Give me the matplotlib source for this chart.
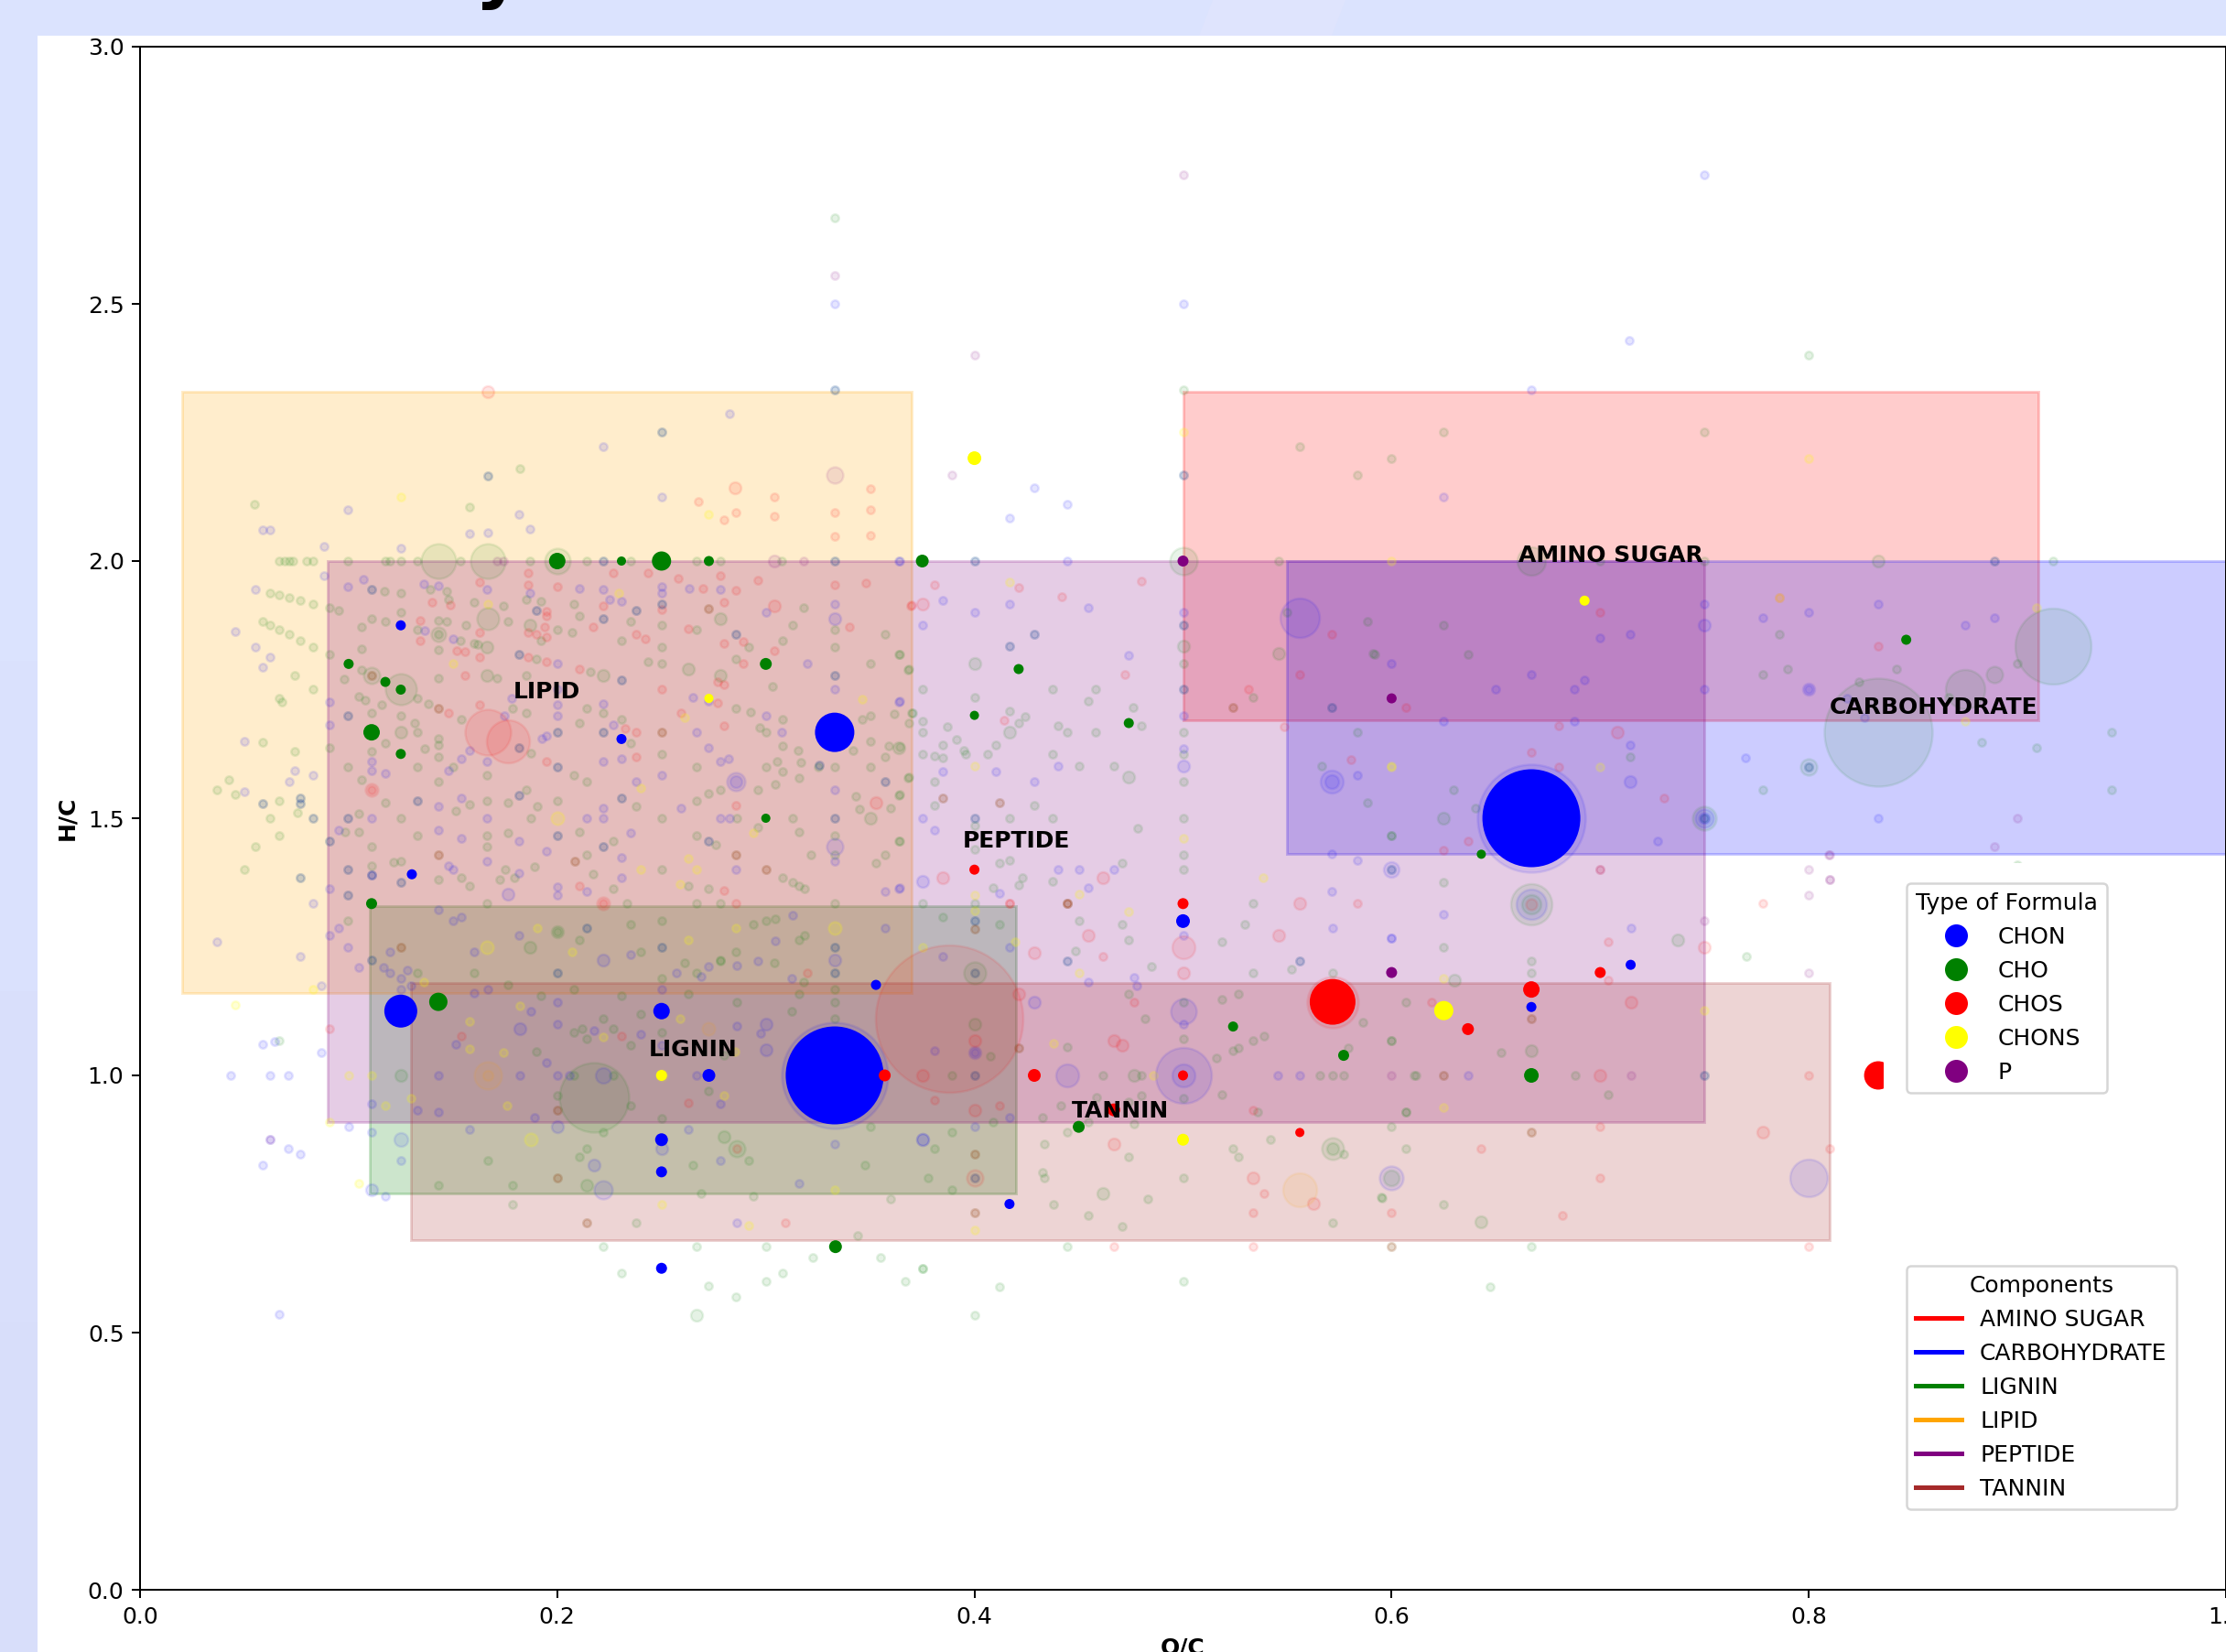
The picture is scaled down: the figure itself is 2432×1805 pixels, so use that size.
import numpy as np
import matplotlib
matplotlib.use("Agg")
import matplotlib.pyplot as plt
from matplotlib.patches import Rectangle, Polygon
from matplotlib.lines import Line2D

DPI = 180
W, H = 2432, 1805

# --- component regions: name, colour, O/C min, O/C max, H/C min, H/C max, label position
regions = [
    ("AMINO SUGAR", "red", 0.50, 0.91, 1.69, 2.33, 0.705, 2.01),
    ("CARBOHYDRATE", "blue", 0.55, 1.00, 1.43, 2.00, 0.86, 1.715),
    ("LIGNIN", "green", 0.11, 0.42, 0.77, 1.33, 0.265, 1.05),
    ("LIPID", "orange", 0.02, 0.37, 1.16, 2.33, 0.195, 1.745),
    ("PEPTIDE", "purple", 0.09, 0.75, 0.91, 2.00, 0.42, 1.455),
    ("TANNIN", "brown", 0.13, 0.81, 0.68, 1.18, 0.47, 0.93),
]
formula_types = [("CHON", "blue"), ("CHO", "green"), ("CHOS", "red"), ("CHONS", "yellow"), ("P", "purple")]

# --- faint formulas (O/C, H/C)
cho_small = [
(.0665,2),(.0694,2),(.0714,2),(.0733,2),(.0798,2),(.0831,2),(.0998,2),(.1174,2),(.12,2),(.125,2),(.133,2),(.1536,2),(.187,2),(.2143,2),(.2353,2),(.2667,2),(.278,2),(.3076,2),
(.158,2.105),(.117,1.941),(.125,1.938),(.139,1.944),(.147,1.941),(.055,2.11),(.182,2.18),(.8,2.4),(.2857,.57),(.2727,.59),
(.0665,1.934),(.0714,1.928),(.0768,1.923),(.083,1.916),(.091,1.909),(.095,1.904),(.111,1.888),(.125,1.9),(.1174,1.882),(.143,1.885),(.147,1.882),(.148,1.925),(.16,1.92),(.174,1.913),(.185,1.925),(.192,1.922),(.208,1.916),(.318,1.909),(.2105,1.894),(.1763,1.882),(.2,1.867),(.2353,1.882),
(.0665,1.867),(.0714,1.857),(.0768,1.846),(.083,1.833),(.091,1.818),(.106,1.872),(.133,1.867),(.143,1.857),(.1536,1.846),(.156,1.875),(.16,1.839),(.162,1.838),(.143,1.828),(.192,1.845),(.207,1.862),(.231,1.846),(.25,1.875),(.25,1.833),(.2667,1.867),(.2917,1.833),(.308,1.846),(.3127,1.875),(.333,1.867),(.333,1.833),(.357,1.857),
(.106,1.83),(.106,1.789),(.074,1.778),(.083,1.75),(.098,1.771),(.143,1.772),(.171,1.772),(.19,1.81),(.185,1.778),(.216,1.784),(.2437,1.805),(.25,1.8),(.2857,1.81),(.303,1.757),(.35,1.8),(.3636,1.818),(.368,1.789),
(.0665,1.733),(.068,1.726),(.105,1.737),(.108,1.729),(.116,1.72),(.133,1.733),(.138,1.723),(.111,1.704),(.125,1.7),(.1787,1.713),(.185,1.704),(.2143,1.713),(.222,1.704),(.2857,1.713),(.2927,1.707),(.308,1.692),(.35,1.7),(.3617,1.703),(.37,1.704),(.346,1.692),
(.1315,1.685),(.231,1.692),(.2105,1.685),(.133,1.667),(.143,1.655),(.154,1.693),(.297,1.676),(.3,1.667),(.308,1.64),(.3156,1.632),(.342,1.632),(.35,1.65),(.359,1.64),(.1174,1.646),(.091,1.637),(.074,1.63),(.111,1.63),(.143,1.643),(.2353,1.646),(.1875,1.626),
(.1364,1.636),(.143,1.62),(.25,1.625),(.2667,1.6),(.3,1.6),(.3055,1.61),(.308,1.59),(.317,1.609),(.325,1.6),(.333,1.6),(.35,1.6),(.357,1.62),(.0998,1.6),(.133,1.6),(.15,1.6),(.1665,1.584),
(.106,1.575),(.143,1.572),(.185,1.556),(.208,1.584),(.2143,1.572),(.2727,1.548),(.278,1.556),(.267,1.534),(.296,1.556),(.3045,1.565),(.3158,1.578),(.343,1.543),(.345,1.518),(.3636,1.545),(.368,1.578),(.0665,1.534),(.1174,1.53),(.158,1.526),(.1665,1.534),(.1763,1.53),(.1905,1.524),(.2,1.534),(.238,1.524),
(.0753,1.51),(.105,1.509),(.125,1.5),(.1516,1.515),(.1873,1.5),(.25,1.5),(.286,1.5),(.3127,1.5),(.36,1.52),(.0984,1.474),(.105,1.474),(.133,1.467),(.1665,1.467),(.1763,1.471),(.2105,1.474),(.2667,1.467),(.296,1.482),(.3158,1.474),(.333,1.467),(.0665,1.467),(.0623,1.5),
(.111,1.445),(.1665,1.445),(.2143,1.429),(.227,1.455),(.276,1.448),(.3215,1.429),(.333,1.429),(.353,1.412),(.357,1.429),(.3636,1.455),(.1217,1.415),(.125,1.417),(.111,1.408),
(.143,1.381),(.154,1.385),(.158,1.369),(.1724,1.38),(.175,1.4),(.1795,1.385),(.189,1.406),(.217,1.391),(.25,1.4),(.308,1.385),(.3127,1.375),(.3158,1.369),(.3184,1.363),(.227,1.363),(.263,1.369),(.2727,1.363),
(.1665,1.334),(.2333,1.334),(.2667,1.334),(.278,1.334),(.333,1.334),(.0998,1.3),(.2,1.28),(.2105,1.264),(.2353,1.294),(.24,1.241),(.25,1.3),(.278,1.225),(.2857,1.24),(.294,1.294),(.3,1.3),(.3045,1.305),(.3158,1.264),(.3184,1.273),
(.133,1.2),(.16,1.2),(.1765,1.176),(.192,1.154),(.208,1.167),(.231,1.154),(.25,1.188),(.261,1.218),(.267,1.2),(.278,1.222),(.304,1.218),(.318,1.182),(.286,1.143),(.263,1.158),(.316,1.158),(.3125,1.125),(.333,1.167),(.333,1.143),(.333,1.111),
(.222,1.111),(.212,1.09),(.208,1.084),(.214,1.072),(.227,1.09),(.24,1.12),(.25,1.084),(.19,1.047),(.235,1.059),(.28,1.04),(.208,1),(.227,1),(.2,.96),(.235,.942),(.2727,.97),(.222,.889),(.25,.917),(.292,.834),(.214,.857),(.2105,.842),(.1666,.834),(.265,.825),(.143,.786),(.1786,.786),(.3477,.826),(.35,.9),(.36,.76),(.294,.765),(.269,.77),(.1786,.75),(.238,.714),
(.2222,.667),(.2667,.667),(.30,.667),(.344,.688),(.3226,.646),(.355,.646),(.231,.616),(.308,.616),(.30,.60),(.367,.60),(.375,.625),
(.0587,1.647),(.0426,1.575),(.037,1.556),(.0455,1.547),(.0555,1.445),(.05,1.4),(.0587,1.882),(.0623,1.875),(.0623,1.937),(.0665,1.068),
(.364,1.818),(.3684,1.79),(.375,1.751),(.4,1.734),(.4376,1.751),(.4583,1.751),(.4546,1.728),(.5334,1.734),(.3704,1.705),(.375,1.688),(.3684,1.685),(.4168,1.709),(.4212,1.685),(.4243,1.698),(.4762,1.715),(.48,1.68),(.375,1.668),(.387,1.678),(.44,1.68),(.4444,1.668),(.4583,1.668),(.5,1.668),(.5834,1.668),(.364,1.638),(.3847,1.642),(.3913,1.653),(.395,1.632),(.396,1.625),(.4063,1.625),(.4104,1.642),(.375,1.625),(.381,1.621),(.3847,1.617),(.4376,1.625),(.5,1.625),(.45,1.601),(.4668,1.601),(.381,1.572),(.3684,1.58),(.364,1.546),(.5,1.572),(.5666,1.601),(.5883,1.53),(.381,1.525),(.412,1.53),(.4287,1.525),(.4168,1.5),(.4376,1.5),(.5,1.5),(.4,1.486),(.4784,1.48),(.364,1.456),(.6,1.467),(.4,1.44),(.412,1.413),(.4168,1.418),(.5,1.428),(.4707,1.413),(.5,1.4),(.4232,1.385),(.4212,1.37),(.4091,1.364),(.4376,1.377),(.375,1.334),(.5334,1.334),
(.556,2.222),(.5834,2.167),(.6,2.2),(.5,2.333),(.5458,2),(.55,1.9),(.5883,1.883),(.591,1.82),(.5,1.8),(.4,1.334),
(.385,1.308),(.412,1.294),(.45,1.3),(.4707,1.294),(.4739,1.264),(.5297,1.294),(.5187,1.259),(.552,1.207),(.5336,1.2),(.5717,1.2),(.485,1.212),(.4483,1.242),
(.4739,1.158),(.5187,1.148),(.5265,1.158),(.5,1.143),(.4817,1.111),(.607,1.143),(.5864,1.103),(.4076,1.037),(.4446,1.056),(.5,1.072),(.5336,1.067),(.5387,1.077),(.524,1.048),(.5265,1.053),(.5162,1.033),(.579,1.053),(.6,1.067),(.389,1),(.4617,1),(.48,1),(.5656,1),(.5717,1),(.577,1),(.6115,1),
(.409,.91),(.4327,.919),(.4413,.942),(.4584,.958),(.48,.96),(.474,.948),(.5,.955),(.5187,.963),(.5358,.928),(.607,.928),(.389,.889),(.381,.857),(.3778,.8),(.389,.778),(.4446,.889),(.4546,.91),(.4764,.905),(.4335,.867),(.4739,.842),(.524,.857),(.5265,.842),(.5419,.875),(.577,.847),(.6,.9),(.607,.857),(.4325,.811),(.4335,.8),(.5,.8),(.483,.76),(.4377,.75),(.4546,.728),(.5955,.762),(.5717,.714),(.4707,.706),(.4446,.667),(.375,.625),(.412,.589),(.5,.6),(.4,.533),
(.625,1.375),(.625,1.25),(.667,1.222),(.667,1.2),(.77,1.231),(.6525,1.044),(.688,1),(.611,1),(.704,.963),(.607,.929),(.625,.75),(.595,.763),(.667,.667),(.647,.589),(.6,1.067),
(.625,2.25),(.75,2.25),(.7,2),(.75,2),(.917,2),(.625,1.875),(.786,1.857),(.6367,1.818),(.592,1.818),(.9,1.8),(.79,1.79),(.842,1.79),(.778,1.779),(.824,1.765),(.867,1.734),(.8827,1.647),(.909,1.637),(.945,1.667),(.7144,1.62),(.6296,1.556),(.778,1.556),(.945,1.556),(.64,1.52),(.6,1.467),(.9,1.41),(.333,2.667),
]
cho_large = [(.1665,1.833),(.187,1.875),(.222,1.778),(.1665,1.778),(.263,1.79),(.278,1.778),(.278,1.888),(.3636,1.637),(.125,1.667),(.35,1.5),(.125,1),(.28,.88),(.214,.786),(.4,1.8),(.5,1.834),(.5458,1.82),(.4168,1.668),(.474,1.58),(.4,1.1),(.4764,1),(.4617,.77),(.5717,.857),(.737,1.264),(.63,1.185),(.667,1.048),(.643,.715),(.8333,2),(.625,1.5),(.187,1.25),(.2,1.28),(.2667,.533)]

chon_small = [
(.3636,2),(.0998,2.10),(.1816,2.09),(.187,2.062),(.158,2.053),(.1666,2.056),(.088,2.029),(.125,2.025),(.088,1.971),(.0998,1.95),(.107,1.964),(.136,1.955),(.143,1.952),(.1665,1.944),(.187,1.938),(.2105,1.947),(.222,1.944),(.25,1.95),(.25,1.938),(.2633,1.947),(.278,1.944),
(.0586,2.06),(.0623,2.06),(.222,2.222),(.25,2.125),(.2825,2.286),(.333,2.5),(.037,1.26),
(.225,1.925),(.231,1.922),(.333,1.916),(.3,1.9),(.1364,1.864),(.15,1.849),(.2,1.8),(.32,1.8),(.2,1.75),(.2,1.72),(.2,1.7),(.091,1.726),(.178,1.733),(.222,1.722),(.265,1.735),(.2727,1.728),(.3,1.7),(.333,1.75),(.3636,1.726),(.091,1.682),(.1748,1.7),(.227,1.682),(.2667,1.667),(.2727,1.637),(.3076,1.667),(.1925,1.655),(.195,1.661),(.1578,1.632),
(.111,1.61),(.154,1.615),(.1665,1.61),(.222,1.61),(.231,1.615),(.278,1.61),(.282,1.615),(.111,1.593),(.1174,1.588),(.074,1.592),(.083,1.584),(.148,1.593),(.0714,1.572),(.238,1.572),(.25,1.584),(.333,1.556),(.2595,1.519),(.143,1.524),(.154,1.539),(.222,1.519),
(.111,1.5),(.1665,1.5),(.2143,1.5),(.222,1.5),(.278,1.5),(.2825,1.5),(.0952,1.476),(.143,1.476),(.154,1.461),(.2353,1.471),(.1816,1.455),(.195,1.436),(.231,1.424),(.1665,1.417),(.333,1.417),(.148,1.407),(.15,1.4),(.1816,1.393),(.231,1.385),(.2857,1.4),(.2,1.366),(.2,1.35),(.2143,1.358),(.357,1.358),(.3636,1.363),(.111,1.39),(.091,1.363),
(.083,1.334),(.143,1.322),(.3127,1.312),(.091,1.273),(.0952,1.286),(.0998,1.25),(.0768,1.231),(.12,1.241),(.15,1.3),(.154,1.308),(.16,1.241),(.1816,1.273),(.2353,1.235),(.3045,1.261),(.357,1.286),
(.128,1.205),(.125,1.188),(.12,1.2),(.1165,1.21),(.105,1.21),(.125,1.167),(.087,1.175),(.13,1.175),(.16,1.16),(.1666,1.167),(.2,1.143),(.1875,1.125),(.25,1.167),(.257,1.2),(.269,1.192),(.2727,1.212),(.286,1.214),(.296,1.222),(.3125,1.188),(.2,1.1),(.2175,1.087),(.24,1.08),(.286,1.096),(.2975,1.081),(.1515,1.061),(.195,1.025),(.087,1.044),(.071,1),(.143,1),(.182,1),(.2,1),(.206,1),(.267,1),(.25,1.059),(.111,.944),(.133,.933),(.143,.928),(.189,.919),(.278,.944),(.0999,.9),(.111,.889),(.158,.895),(.263,.895),(.333,.866),(.278,.834),(.125,.834),(.1175,.765),(.071,.857),(.077,.847),(.316,.79),(.286,.714),
(.0555,1.944),(.0455,1.863),(.0555,1.832),(.0623,1.813),(.0587,1.794),(.05,1.65),(.05,1.551),(.0587,1.06),(.0645,1.066),(.0433,1),(.0623,1),(.0623,.876),(.0587,.825),(.0667,.535),
(.4446,2.111),(.4168,2.083),(.4287,2.143),(.5,2.5),(.4444,2),(.364,2),(.3847,1.923),(.4,1.9),(.4168,1.917),(.4546,1.91),(.5,1.9),(.375,1.875),(.474,1.816),(.364,1.728),(.5,1.7),(.5,1.636),(.44,1.601),(.3847,1.59),(.4104,1.59),(.4287,1.572),(.5834,1.584),(.375,1.5),(.381,1.477),(.5715,1.43),(.5834,1.418),(.44,1.4),(.45,1.4),(.4668,1.4),(.412,1.354),(.4546,1.364),(.364,1.364),(.5715,1.358),
(.3847,1.231),(.417,1.25),(.5,1.273),(.5717,1.286),(.4764,1.19),(.478,1.174),(.4546,1.182),(.6,1.267),(.5,1.1),(.381,1.048),(.4,1.044),(.5456,1),(.556,1),(.4168,.918),(.4,.9),
(.625,1.313),(.6,1.267),(.7146,1.286),(.6366,1),(.667,2.333),(.75,1.917),(.8333,1.917),(.8,1.9),(.778,1.889),(.889,1.889),(.875,1.875),(.7,1.85),(.7144,1.857),(.6,1.8),(.667,1.779),(.6925,1.769),(.65,1.75),(.6875,1.75),(.75,1.75),(.8,1.75),(.8185,1.733),(.8265,1.696),(.625,1.688),(.6875,1.688),(.7144,1.643),(.7695,1.617),(.8333,1.5),(.7275,1.455),(.625,2.125),(.75,2.75),(.714,2.429),
]
chon_large = [(.333,1.888),(.75,1.875),(.7144,1.572),(.8,1.75),(.5,1.601),(.375,1.377),(.4287,1.143),(.3,1.05),(.30,1.1),(.25,.857),(.2175,.826),(.111,.778),(.2,.9),(.1763,1.353),(.182,1.09),(.375,.875),(.333,1.225),(.222,1.225),(.4,1.044)]

chos_small = [
(.28,2.08),(.2857,2.095),(.304,2.087),(.333,2.095),(.35,2.10),(.333,2.048),(.35,2.05),(.163,1.959),(.186,1.977),(.186,1.953),(.2,1.95),(.227,1.977),(.2437,1.976),(.258,1.967),(.27,1.946),(.278,1.972),(.2857,1.943),(.296,1.962),(.333,1.953),(.348,1.957),
(.2676,2.115),(.304,2.125),(.35,2.14),
(.1344,1.884),(.14,1.92),(.1487,1.914),(.222,1.912),(.25,1.906),(.28,1.92),(.195,1.903),(.3695,1.913),(.195,1.894),(.34,1.872),
(.1344,1.846),(.163,1.861),(.152,1.826),(.1556,1.823),(.163,1.814),(.186,1.861),(.19,1.857),(.195,1.853),(.194,1.872),(.217,1.871),(.238,1.857),(.242,1.849),(.263,1.869),(.289,1.844),(.28,1.84),(.304,1.825),
(.1556,1.778),(.186,1.814),(.195,1.805),(.2105,1.79),(.2767,1.766),(.28,1.759),(.289,1.8),(.1626,1.72),(.148,1.704),(.25,1.75),(.2767,1.724),(.2595,1.704),(.28,1.68),(.2325,1.674),(.238,1.667),(.195,1.61),(.238,1.62),(.111,1.556),(.2857,1.525),(.2105,1.369),(.28,1.36),(.2857,1.334),(.222,1.334),
(.32,1.2),(.154,1.077),(.091,1.09),(.231,1.077),(.263,.947),(.286,.858),(.3095,.714),
(.37,1.914),(.381,1.953),(.4212,1.948),(.442,1.931),(.48,1.961),(.4723,1.779),(.5314,1.751),(.5715,1.858),(.556,1.779),(.414,1.691),(.607,1.715),(.5485,1.678),(.5807,1.614),(.412,1.53),(.4168,1.334),(.5834,1.334),(.417,1.334),
(.4617,1.231),(.4764,1.143),(.381,.952),(.412,.942),(.5336,.933),(.5387,.77),(.5336,.733),(.6,.733),(.4668,.667),(.5336,.667),(.8,.667),
(.778,1.334),(.704,1.26),(.704,1.185),(.619,1.143),(.7,.9),(.643,.858),(.81,.858),(.7,.8),(.682,.728),(.8,1),(.7,1.9),(.786,1.929),(.8333,1.834),(.68,1.68),(.667,1.629),(.68,1.6),(.7308,1.539),(.6367,1.455),(.625,1.437),(.7,1.4),
]
chos_large = [(.304,1.913),(.353,1.53),(.4,.933),(.4668,1.067),(.4707,1.059),(.4212,1.158),(.4668,.867),(.5336,.8),(.5626,.751),(.4,1.067),(.3847,1.385),(.4616,1.385),(.556,1.334),(.5457,1.273),(.4287,1.239),(.4546,1.273),(.5,1.2),(.7,1),(.75,1.25),(.7146,1.143),(.778,.89),(.7084,1.667),(.375,1),(.375,1.917),(.1666,2.33),(.2854,2.143)]

chons_small = [(.2727,2.09),(.2295,1.938),(.1666,1.917),(.15,1.8),(.346,1.731),(.261,1.695),(.24,1.559),(.294,1.471),(.263,1.422),(.24,1.4),(.2667,1.4),(.259,1.371),(.136,1.182),(.083,1.168),(.1905,1.286),(.207,1.241),(.263,1.264),(.2857,1.286),(.182,1.136),(.158,1.105),(.158,1.052),(.174,1.044),(.222,1.075),(.259,1.111),(.285,1.047),(.0999,1),(.111,1),(.13,.956),(.1175,.942),(.176,.942),(.28,.961),(.091,.909),(.105,.79),(.0455,1.137),(.25,.75),(.292,.709),(.333,.778),(.125,2.125),
(.4167,1.959),(.5,2.25),(.4,1.601),(.6,1.601),(.5,1.46),(.5386,1.385),(.4,1.35),(.45,1.352),(.4,1.32),(.4739,1.318),(.375,1.25),(.4195,1.259),(.45,1.2),(.4377,1.062),(.4857,1),(.4,.7),(.625,1.188),(.75,1.126),(.625,.938),(.8,2.2),(.6,2),(.786,1.929),(.909,1.909),(.875,1.688),(.6,1.6),(.7,1.6)]
chons_large = [(.1875,.875),(.333,1.286),(.1665,1.25),(.2,1.5)]

p_small = [(.389,2.167),(.5,2.75),(.4,2.4),(.1713,2),(.1742,2),(.3182,2),(.8,1.35),(.81,1.381),(.81,1.429),(.75,1.3),(.8,1.2),(.8,1.4),(.7,1.4),(.7146,1),(.6,1),(.8096,1.429),(.81,1.38),(.9,1.5),(.889,1.445),(.0623,.876),(.333,2.556)]
p_large = [(.3039,2)]

dual_gb = [(.333,2),(.2222,2),(.111,1.944),(.25,1.916),(.238,1.904),(.19,1.904),(.1816,1.818),(.222,1.888),(.0998,1.7),(.2,1.667),(.222,1.667),(.1816,1.637),(.2,1.6),(.3254,1.604),(.1816,1.545),(.231,1.769),(.2857,1.857),(.231,1.539),(.357,1.572),(.333,1.778),(.0768,1.539),(.133,1.534),(.083,1.5),(.0998,1.5),(.333,1.5),(.091,1.455),(.2,1.467),(.222,1.445),(.2727,1.455),(.0998,1.4),(.0768,1.385),(.111,1.39),(.0998,1.35),(.125,1.375),(.2143,1.286),(.25,1.25),(.333,1.25),(.111,1.225),(.2,1.2),(.333,1.2),(.0587,1.529),(.0768,1.529),(.1666,2.166),(.25,2.25),(.333,2.333),
(.4,2),(.5,1.875),(.5,1.751),(.4287,1.858),(.4168,1.834),(.5,2.167),(.5715,1.715),(.4,1.5),(.4446,1.223),(.556,1.223),(.4,1.3),(.4,1),(.75,1),(.889,2),(.4,1.2),(.4,.8),(.8,1.6),(.75,1.5),(.6,1.4)]
dual_gr = [(.143,1.713),(.111,1.777),(.2727,1.908),(.25,1.667),(.143,1.429),(.2857,1.429),(.3,1.4),(.125,1.25),(.2,.933),(.2,.8),(.2083,1.417),(.214,.714),(.3847,1.54),(.4444,1.334),(.4446,1.334),(.4,1.284),(.625,1),(.524,1.715),(.4,.847),(.4,.733),(.6,.667),(.667,.89),(.667,1.111),(.4212,1.053)]

# --- large translucent formulas: O/C, H/C, relative size, colour
large_faint = [
(.143,2,38,"green"),(.1667,2,38,"green"),(.2,2,28,"green"),(.1667,1.888,24,"green"),(.125,1.75,34,"green"),(.111,1.777,18,"green"),(.143,1.857,16,"green"),
(.2175,.958,76,"green"),(.8333,1.667,118,"green"),(.917,1.834,83,"green"),(.875,1.75,43,"green"),(.889,1.779,18,"green"),(.667,2,31,"green"),(.5,2,30,"green"),(.4,1.2,24,"green"),(.5717,.857,24,"green"),
(.1667,1.667,50,"red"),(.1765,1.65,47,"red"),(.388,1.11,161,"red"),(.5,1.25,25,"red"),(.286,.858,18,"green"),(.4,.8,18,"red"),(.222,1.334,14,"red"),(.111,1.556,14,"red"),
(.556,1.889,43,"blue"),(.8,.8,41,"blue"),(.5,1,61,"blue"),(.5,1.125,28,"blue"),(.4446,1,25,"blue"),(.2857,1.572,20,"blue"),(.2857,1.572,13,"blue"),(.333,1.445,18,"blue"),(.222,.777,20,"blue"),(.222,1,17,"blue"),(.125,.875,15,"blue"),
(.333,1,116,"blue"),(.667,1.5,118,"blue"),(.5,1,25,"blue"),(.5715,1.572,25,"blue"),(.5715,1.572,15,"blue"),
(.667,1.333,45,"green"),(.667,1.333,33,"blue"),(.667,1.333,21,"green"),(.667,1.333,12,"red"),
(.75,1.5,26,"green"),(.75,1.5,20,"blue"),(.75,1.5,12,"blue"),(.6,.8,26,"blue"),(.6,.8,17,"green"),(.6,1.4,17,"blue"),(.8,1.6,18,"green"),(.25,1,12,"yellow"),
(.556,.778,37,"orange"),(.1667,1,30,"orange"),(.1667,1,11,"orange"),(.5717,1.143,56,"red"),(.2727,1.09,14,"orange"),(.375,.875,13,"blue"),(.333,2.167,18,"purple"),
]

# --- highlighted formulas: O/C, H/C, relative size
solid_blue = [(.667,1.5,107),(.333,1,107),(.333,1.667,43),(.125,1.125,36),(.25,1.125,18),(.125,1.875,11),(.1303,1.391,11),(.2308,1.654,11),(.2727,1,14),(.25,.875,14),(.25,.8125,12),(.25,.625,12),(.3528,1.176,11),(.5,1.3,15),(.7146,1.215,11),(.667,1.133,11),(.4168,.75,11)]
solid_green = [(.2,2,18),(.25,2,21),(.2308,2,10),(.2727,2,11),(.375,2,14),(.1,1.8,11),(.1176,1.765,11),(.125,1.75,11),(.111,1.667,18),(.125,1.625,11),(.3,1.8,13),(.3,1.5,10),(.111,1.334,12),(.143,1.143,20),(.4212,1.79,11),(.4,1.7,10),(.474,1.685,11),(.643,1.43,10),(.8467,1.847,11),(.3334,.667,14),(.45,.9,13),(.524,1.095,11),(.577,1.039,12),(.667,1,16)]
solid_red = [(.5717,1.143,50),(.8333,1,31),(.667,1.167,18),(.4,1.4,11),(.5,1.334,12),(.7,1.2,12),(.6366,1.09,13),(.556,.889,10),(.4287,1,14),(.4668,.933,14),(.5,1,11),(.357,1,13)]
solid_yellow = [(.4,2.2,15),(.6925,1.923,11),(.2727,1.733,10),(.25,1,12),(.625,1.126,21),(.5,.875,13)]
solid_purple = [(.5,2,12),(.6,1.733,11),(.6,1.2,12)]


def px2s(d):
    return (np.asarray(d, dtype=float) * 72.0 / DPI) ** 2


fig = plt.figure(figsize=(W / DPI, H / DPI), dpi=DPI, facecolor="#dbe3fe")
# lavender slide backdrop with the white panel on top
fig.add_artist(Polygon([(1325 / W, 1), (1470 / W, 1), (1455 / W, 1 - 39 / H), (1310 / W, 1 - 39 / H)],
                       closed=True, transform=fig.transFigure, fc="#dfe4fd", ec="none", zorder=-5))
for frac, col in ((0.6, "#dae1fd"), (0.4, "#d9dffb"), (0.2, "#d8defa")):
    fig.add_artist(Rectangle((0, 0), 41 / W, frac, transform=fig.transFigure, fc=col, ec="none", zorder=-5))
fig.add_artist(Rectangle((41 / W, 0), 1 - 41 / W, 1 - 39 / H, transform=fig.transFigure, fc="white", ec="none", zorder=-4))
fig.text(544 / W, (H + 6) / H, "y", fontsize=32, fontweight="bold", ha="center", va="baseline")

ax = fig.add_axes([153 / W, (H - 1737) / H, 2279 / W, 1686 / H])
ax.set_facecolor("none")
ax.set_xlim(0, 1)
ax.set_ylim(0, 3)

for name, col, x0, x1, y0, y1, lx, ly in regions:
    ax.add_patch(Rectangle((x0, y0), x1 - x0, y1 - y0, fc=col, ec=col, alpha=0.2, lw=1.2, zorder=1))


def faint(points, color, d, lw=1.0, a=0.1):
    arr = np.array(points)
    ax.scatter(arr[:, 0], arr[:, 1], s=px2s(d), color=color, alpha=a, linewidths=lw, zorder=2)


faint(cho_small, "green", 8.5)
faint(cho_large, "green", 13)
faint(chon_small, "blue", 8.5)
faint(chon_large, "blue", 13)
faint(chos_small, "red", 8.5)
faint(chos_large, "red", 13)
faint(chons_small, "yellow", 8.5, a=0.16)
faint(chons_large, "yellow", 14, a=0.16)
faint(p_small, "purple", 8.5)
faint(p_large, "purple", 13)
for c in ("green", "blue"):
    faint(dual_gb, c, 8.5)
for c in ("green", "red"):
    faint(dual_gr, c, 8.5)
for x, y, d, c in large_faint:
    ax.scatter([x], [y], s=px2s(d), color=c, alpha=0.09, linewidths=1.0, zorder=2)

for pts, c in ((solid_blue, "blue"), (solid_green, "green"), (solid_red, "red"),
               (solid_yellow, "yellow"), (solid_purple, "purple")):
    arr = np.array(pts)
    ax.scatter(arr[:, 0], arr[:, 1], s=px2s(arr[:, 2]), color=c, linewidths=0, zorder=3)

# white backing of the legend area hides marks at the lower right
ax.add_patch(Rectangle((0.836, 0.006), 0.163, 1.407, fc="white", ec="none", zorder=4))

for name, col, x0, x1, y0, y1, lx, ly in regions:
    ax.text(lx, ly, name, ha="center", va="center", fontweight="bold", fontsize=10, zorder=5)

ax.set_xlabel("O/C", fontweight="bold")
ax.set_ylabel("H/C", fontweight="bold")

leg1 = fig.legend(handles=[Line2D([], [], ls="", marker="o", ms=9, color=c, label=n) for n, c in formula_types],
                  title="Type of Formula", loc="upper left", bbox_to_anchor=(2083 / W, 1 - 965 / H),
                  borderaxespad=0, labelspacing=0.52)
leg2 = fig.legend(handles=[Line2D([], [], color=r[1], lw=2, label=r[0]) for r in regions],
                  title="Components", loc="upper left", bbox_to_anchor=(2083 / W, 1 - 1383 / H),
                  borderaxespad=0, labelspacing=0.52)

fig.savefig("out.png", dpi=DPI)
